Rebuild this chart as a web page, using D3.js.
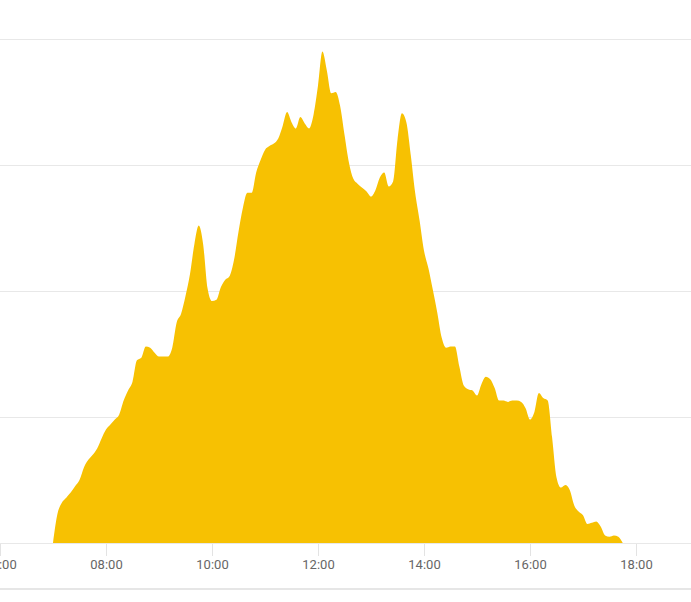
<!DOCTYPE html>
<html>
<head>
<meta charset="utf-8">
<script src="https://cdn.jsdelivr.net/npm/d3@7"></script>
<style>
  html, body { margin: 0; padding: 0; background: #fff; }
  svg { display: block; }
</style>
</head>
<body>
<svg id="chart" width="691" height="602"></svg>
<script>
const times = [
  "07:00","07:05","07:10","07:15","07:20","07:25","07:30","07:35","07:40","07:45","07:50","07:55",
  "08:00","08:05","08:10","08:15","08:20","08:25","08:30","08:35","08:40","08:45","08:50","08:55",
  "09:00","09:05","09:10","09:15","09:20","09:25","09:30","09:35","09:40","09:45","09:50","09:55",
  "10:00","10:05","10:10","10:15","10:20","10:25","10:30","10:35","10:40","10:45","10:50","10:55",
  "11:00","11:05","11:10","11:15","11:20","11:25","11:30","11:35","11:40","11:45","11:50","11:55",
  "12:00","12:05","12:10","12:15","12:20","12:25","12:30","12:35","12:40","12:45","12:50","12:55",
  "13:00","13:05","13:10","13:15","13:20","13:25","13:30","13:35","13:40","13:45","13:50","13:55",
  "14:00","14:05","14:10","14:15","14:20","14:25","14:30","14:35","14:40","14:45","14:50","14:55",
  "15:00","15:05","15:10","15:15","15:20","15:25","15:30","15:35","15:40","15:45","15:50","15:55",
  "16:00","16:05","16:10","16:15","16:20","16:25","16:30","16:35","16:40","16:45","16:50","16:55",
  "17:00","17:05","17:10","17:15","17:20","17:25","17:30","17:35","17:40","17:45"
];
const values = [
  0,23,32,36,40,45,50,60,66,70,75,83,
  90,94,98,102,113,121,128,145,147,156,155,151,
  148,148,148,155,175,182,196,213,237,252,237,202,
  192,193,203,209,212,225,247,266,278,278,294,304,
  312,315,317,321,331,342,334,329,338,333,329,340,
  363,390,375,357,358,347,324,302,289,285,282,279,
  275,280,290,294,283,287,320,341,334,308,278,256,
  232,218,201,183,163,155,156,156,140,125,122,121,
  117,126,132,130,123,113,113,112,113,113,112,107,
  98,104,119,115,113,84,52,44,46,42,30,25,
  22,15,16,17,13,6,5,6,5,0
];
const xTickLabels = ["06:00","08:00","10:00","12:00","14:00","16:00","18:00"];
const yGridValues = [0,100,200,300,400];

const parse = d3.timeParse("%H:%M");
const data = times.map((t, i) => ({ t: parse(t), v: values[i] }));

const W = 691;
const svg = d3.select("#chart");

const x = d3.scaleTime()
  .domain([parse("06:00"), parse("19:00")])
  .range([0, 689]);
const y = d3.scaleLinear().domain([0, 400]).range([543, 39]);

// gridlines
svg.append("g").selectAll("line")
  .data(yGridValues)
  .join("line")
  .attr("x1", 0).attr("x2", W)
  .attr("y1", d => Math.round(y(d)) + 0.5)
  .attr("y2", d => Math.round(y(d)) + 0.5)
  .attr("stroke", "#e8e8e8")
  .attr("stroke-width", 1);

// area
const area = d3.area()
  .x(d => x(d.t))
  .y0(y(0))
  .y1(d => y(d.v))
  .curve(d3.curveMonotoneX);

svg.append("path")
  .datum(data)
  .attr("d", area)
  .attr("fill", "#F7C102");

// x axis
const xAxis = d3.axisBottom(x)
  .tickValues(xTickLabels.map(parse))
  .tickFormat(d3.timeFormat("%H:%M"))
  .tickSize(12)
  .tickPadding(4);

const gx = svg.append("g")
  .attr("transform", "translate(0,544)")
  .call(xAxis);
gx.select(".domain").remove();
gx.selectAll(".tick line").attr("stroke", "#e3e3e3");
gx.selectAll(".tick text")
  .attr("fill", "#666")
  .style("font-family", "Roboto, 'Noto Sans', sans-serif")
  .style("font-size", "13px");

// bottom border line
svg.append("line")
  .attr("x1", 0).attr("x2", W)
  .attr("y1", 589).attr("y2", 589)
  .attr("stroke", "#e6e6e6")
  .attr("stroke-width", 2);
</script>
</body>
</html>
